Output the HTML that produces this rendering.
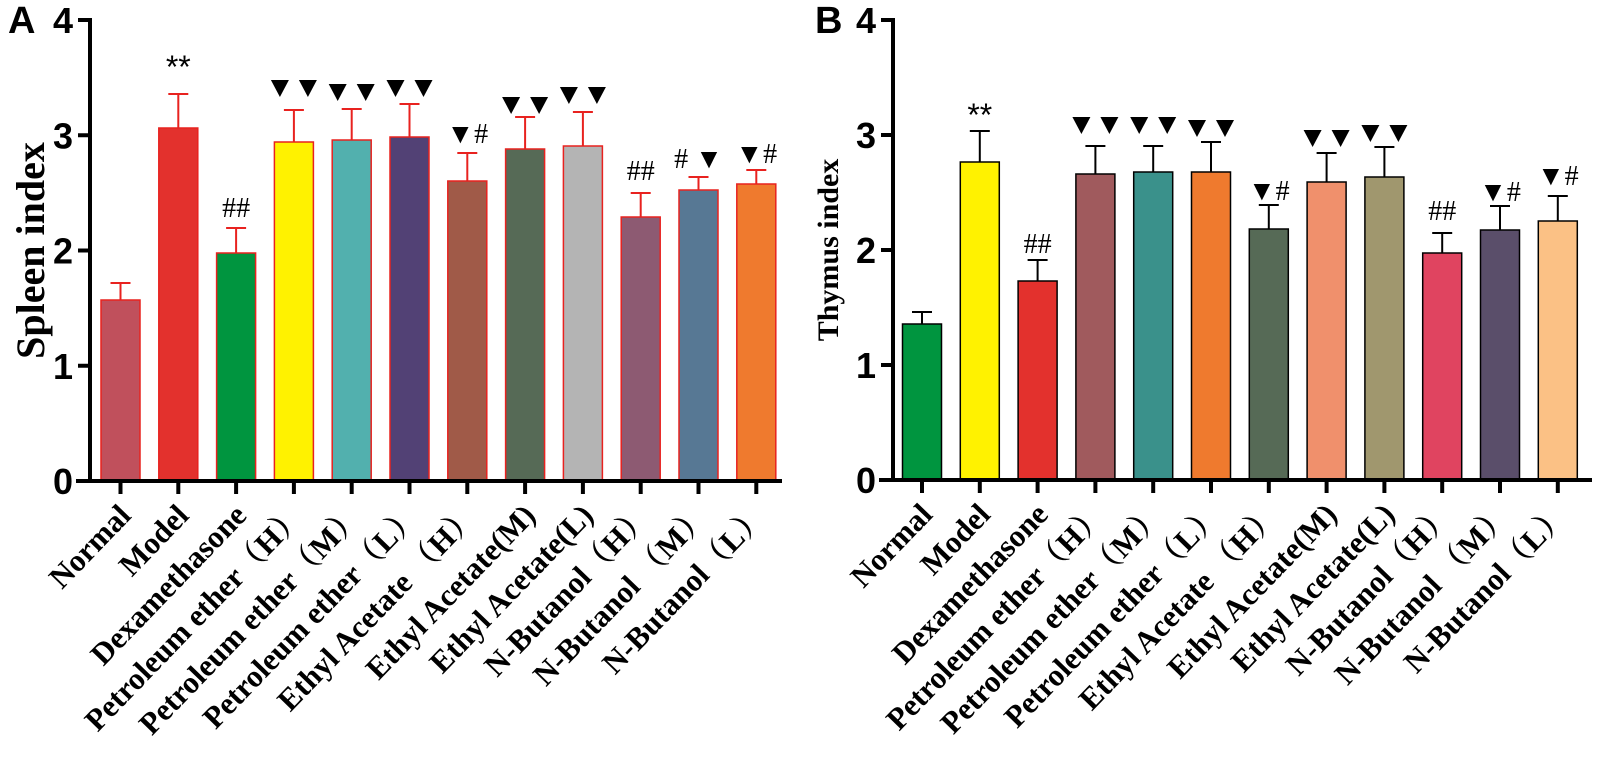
<!DOCTYPE html>
<html><head><meta charset="utf-8"><style>
html,body{margin:0;padding:0;background:#fff;}
</style></head><body>
<svg id="s" width="1599" height="756" xmlns="http://www.w3.org/2000/svg"></svg>
<script>
const S=document.getElementById('s');let h='';
const SER='font-family:\'Liberation Serif\',\'Noto Serif CJK SC\',serif;';
const SAN='font-family:\'Liberation Sans\',sans-serif;';
const labels=["Normal","Model","Dexamethasone","Petroleum ether\uFF08H\uFF09","Petroleum ether\uFF08M\uFF09","Petroleum ether\uFF08L\uFF09","Ethyl Acetate \uFF08H\uFF09","Ethyl Acetate(M)","Ethyl Acetate(L)","N-Butanol\uFF08H\uFF09","N-Butanol \uFF08M\uFF09","N-Butanol\uFF08L\uFF09"];
function panel(o){
 const ax=o.ax,y0=o.y0,u=o.u;
 o.bars.forEach((b,i)=>{
  const cx=o.c0+o.sp*i, w=39;
  const top=b[0], et=b[1];
  h+=`<rect x="${cx-w/2}" y="${top}" width="${w}" height="${y0-top}" fill="${b[2]}" stroke="${o.bc}" stroke-width="1.5"/>`;
  h+=`<line x1="${cx}" y1="${top}" x2="${cx}" y2="${et}" stroke="${o.ec}" stroke-width="2"/>`;
  h+=`<line x1="${cx-10}" y1="${et}" x2="${cx+10}" y2="${et}" stroke="${o.ec}" stroke-width="2"/>`;
  const a=b[3],ay=b[4];
  if(a){ if(a=='**') h+=`<text x="${cx}" y="${ay+16}" text-anchor="middle" style="${SAN}font-size:32px">${a}</text>`;
   else if(a=='TT'){ [-14,14].forEach(d=>{h+=`<polygon points="${cx+d-9},${ay-8} ${cx+d+9},${ay-8} ${cx+d},${ay+9}" fill="#000"/>`;}); }
   else h+=`<text x="${cx}" y="${ay+10}" text-anchor="middle" style="${SER}font-size:28px">${a}</text>`;}
  h+=`<line x1="${cx}" y1="${y0}" x2="${cx}" y2="${y0+13}" stroke="#000" stroke-width="4"/>`;
  h+=`<text transform="translate(${cx+12},${y0+36}) rotate(-46)" text-anchor="end" style="${SER}font-size:31px;font-weight:bold">${labels[i]}</text>`;
 });
 h+=`<line x1="${ax}" y1="${y0-4*u-2}" x2="${ax}" y2="${y0+2}" stroke="#000" stroke-width="4"/>`;
 h+=`<line x1="${ax-14}" y1="${y0}" x2="${o.xe}" y2="${y0}" stroke="#000" stroke-width="4"/>`;
 for(let k=0;k<=4;k++){const y=y0-k*u;
  h+=`<line x1="${ax-12}" y1="${y}" x2="${ax}" y2="${y}" stroke="#000" stroke-width="4"/>`;
  h+=`<text x="${ax-17}" y="${y+13}" text-anchor="end" style="${SAN}font-size:36px;font-weight:bold">${k}</text>`;}
 h+=`<text x="${o.lx}" y="33" style="${SAN}font-size:38px;font-weight:bold">${o.L}</text>`;
 h+=`<text transform="translate(${o.tx},${(y0-4*u+y0)/2}) rotate(-90)" text-anchor="middle" style="${SER}font-size:${o.tf}px;font-weight:bold">${o.title}</text>`;
}
const T='\u25BC';
panel({ax:90,y0:481,u:115.25,c0:120.5,sp:57.8,xe:782,bc:"#e8221f",ec:"#e8221f",lx:8,L:"A",tx:44,tf:40,title:"Spleen index",
bars:[[300,283,"#c0505c"],[128,94,"#e3312d","**",62],[253,228,"#00953f","##",207],[142,110,"#fff200","TT",88],[140,109,"#52b0ae","TT",92],[137,104,"#524175","TT",88],
[181,153,"#a05a48",T+"#",133],[149,117,"#566a56","TT",105],[146,112,"#b4b4b4","TT",95],[217,193,"#8d5a72","##",170],[190,177,"#577894","# "+T,158],[184,170,"#ef7a2e",T+"#",153]]});
panel({ax:893,y0:480,u:115,c0:922,sp:57.8,xe:1592,bc:"#000",ec:"#000",lx:815,L:"B",tx:838,tf:30,title:"Thymus index",
bars:[[324,312,"#00953f"],[162,131,"#fff200","**",110],[281,260,"#e3312d","##",243],[174,146,"#a05a5d","TT",125],[172,146,"#3a918b","TT",125],[172,142,"#ef7a2e","TT",128],
[229,205,"#566a56",T+"#",190],[182,153,"#f0906c","TT",138],[177,147,"#a0976e","TT",133],[253,233,"#e04460","##",210],[230,206,"#5a4e6a",T+"#",191],[221,196,"#fbc185",T+"#",175]]});
S.innerHTML=h;
</script>
</body></html>
